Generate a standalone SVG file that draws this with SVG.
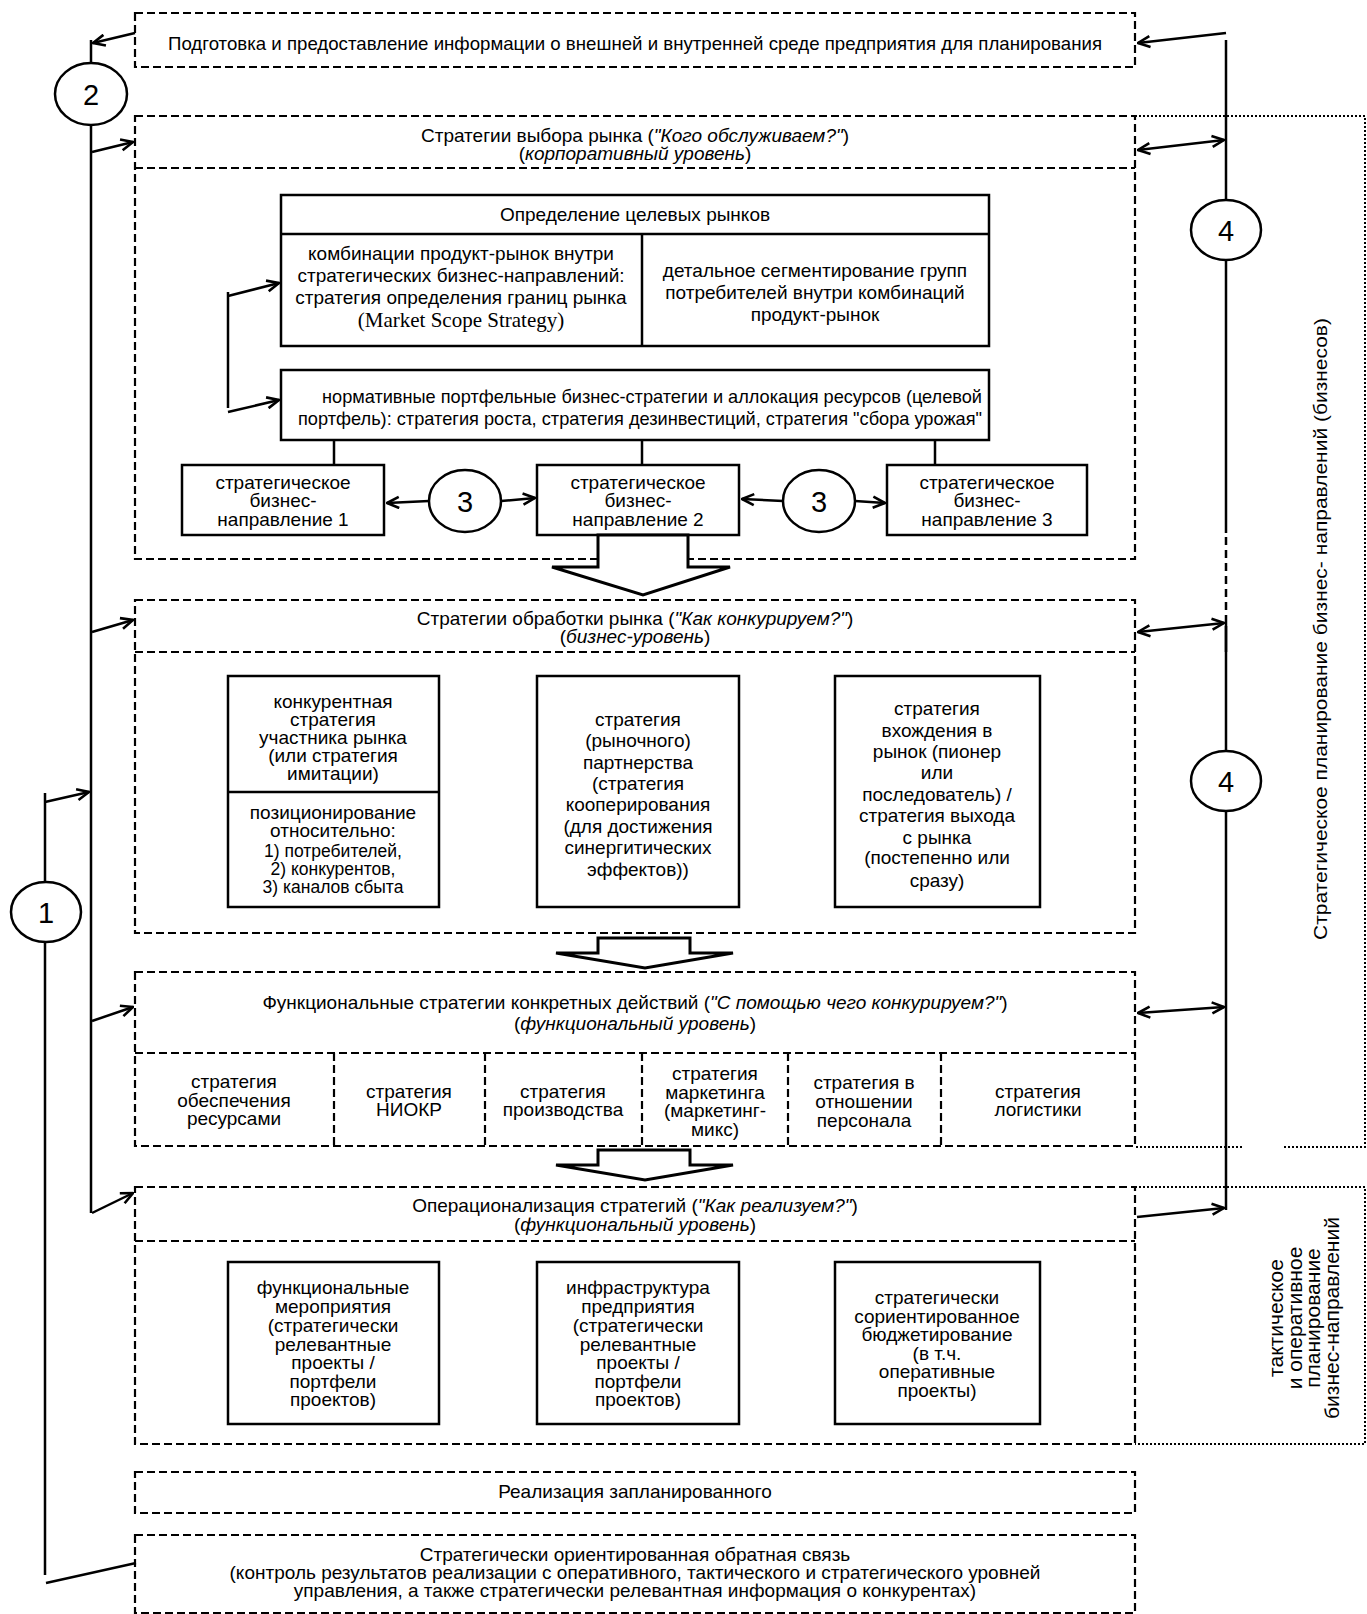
<svg xmlns="http://www.w3.org/2000/svg" width="1367" height="1614" viewBox="0 0 1367 1614">
<style>
.t{font-family:"Liberation Sans",Arial,sans-serif;font-size:19px;fill:#000;text-anchor:middle}
.sm{font-size:17.5px}
.v2{font-size:21px}
.i{font-style:italic}
.num{font-family:"Liberation Sans",Arial,sans-serif;font-size:29px;text-anchor:middle}
.serif{font-family:"Liberation Serif","Times New Roman",serif;font-size:21px}
.dash{fill:none;stroke:#000;stroke-width:2.2;stroke-dasharray:8 4}
.box{fill:#fff;stroke:#000;stroke-width:2.5}
.ln{fill:none;stroke:#000;stroke-width:2.5}
.dot{fill:none;stroke:#000;stroke-width:2;stroke-dasharray:2 2}
.circ{fill:#fff;stroke:#000;stroke-width:2.5}
.blk{fill:#fff;stroke:#000;stroke-width:3;stroke-linejoin:miter}
.arr{fill:none;stroke:#000;stroke-width:2.5;marker-end:url(#ah)}
.darr{fill:none;stroke:#000;stroke-width:2.5;marker-end:url(#ah);marker-start:url(#ah)}
</style>
<defs>
<marker id="ah" viewBox="0 0 14 14" refX="13" refY="7" markerWidth="14" markerHeight="14" markerUnits="userSpaceOnUse" orient="auto-start-reverse">
<path d="M1,1.5 L13,7 L1,12.5" fill="none" stroke="#000" stroke-width="2.6"/>
</marker>
</defs>
<rect width="1367" height="1614" fill="#fff"/>

<!-- side frames -->
<g id="frames">
<path class="dot" d="M1135,116 H1365 V1147 H1282 M1242,1147 H1135"/>
<path class="dot" d="M1135,1187 H1365 V1444 H1135"/>
<text class="t" transform="translate(1327,629) rotate(-90)" textLength="622" lengthAdjust="spacingAndGlyphs">Стратегическое планирование бизнес- направлений (бизнесов)</text>
<text class="t v2" transform="translate(1283,1318) rotate(-90)">тактическое</text>
<text class="t v2" transform="translate(1302,1318) rotate(-90)">и оперативное</text>
<text class="t v2" transform="translate(1320,1318) rotate(-90)">планирование</text>
<text class="t v2" transform="translate(1339,1318) rotate(-90)">бизнес-направлений</text>
</g>

<!-- top box -->
<g id="info">
<rect class="dash" x="135" y="13" width="1000" height="54"/>
<text class="t" x="635" y="50" textLength="934" lengthAdjust="spacingAndGlyphs">Подготовка и предоставление информации о внешней и внутренней среде предприятия для планирования</text>
</g>

<!-- level 1: market choice -->
<g id="market-choice">
<rect class="dash" x="135" y="116" width="1000" height="443"/>
<line class="dash" x1="135" y1="168" x2="1135" y2="168"/>
<text class="t" x="635" y="142">Стратегии выбора рынка (<tspan class="i">"Кого обслуживаем?"</tspan>)</text>
<text class="t" x="635" y="160">(<tspan class="i">корпоративный уровень</tspan>)</text>
</g>

<g id="target-markets">
<rect class="box" x="281" y="195" width="708" height="151"/>
<line class="ln" x1="281" y1="234" x2="989" y2="234"/>
<line class="ln" x1="642" y1="234" x2="642" y2="346"/>
<text class="t" x="635" y="221">Определение целевых рынков</text>
<text class="t" x="461" y="260">комбинации продукт-рынок внутри</text>
<text class="t" x="461" y="282">стратегических бизнес-направлений:</text>
<text class="t" x="461" y="304">стратегия определения границ рынка</text>
<text class="t serif" x="461" y="327">(Market Scope Strategy)</text>
<text class="t" x="815" y="277">детальное сегментирование групп</text>
<text class="t" x="815" y="299">потребителей внутри комбинаций</text>
<text class="t" x="815" y="321">продукт-рынок</text>
</g>

<g id="portfolio">
<rect class="box" x="281" y="370" width="708" height="70"/>
<text class="t" x="652" y="403" textLength="660" lengthAdjust="spacingAndGlyphs">нормативные портфельные бизнес-стратегии и аллокация ресурсов (целевой</text>
<text class="t" x="640" y="425" textLength="684" lengthAdjust="spacingAndGlyphs">портфель): стратегия роста, стратегия дезинвестиций, стратегия "сбора урожая"</text>
</g>

<g id="sbu1">
<rect class="box" x="182" y="465" width="202" height="70"/>
<text class="t" x="283" y="489">стратегическое</text>
<text class="t" x="283" y="507">бизнес-</text>
<text class="t" x="283" y="526">направление 1</text>
</g>
<g id="sbu2">
<rect class="box" x="537" y="465" width="202" height="70"/>
<text class="t" x="638" y="489">стратегическое</text>
<text class="t" x="638" y="507">бизнес-</text>
<text class="t" x="638" y="526">направление 2</text>
</g>
<g id="sbu3">
<rect class="box" x="887" y="465" width="200" height="70"/>
<text class="t" x="987" y="489">стратегическое</text>
<text class="t" x="987" y="507">бизнес-</text>
<text class="t" x="987" y="526">направление 3</text>
</g>

<g id="c3a">
<ellipse class="circ" cx="465" cy="501" rx="36" ry="31"/>
<text class="num" x="465" y="512">3</text>
</g>
<g id="c3b">
<ellipse class="circ" cx="819" cy="501" rx="36" ry="31"/>
<text class="num" x="819" y="512">3</text>
</g>

<!-- level 2 -->
<g id="market-processing">
<rect class="dash" x="135" y="600" width="1000" height="333"/>
<line class="dash" x1="135" y1="652" x2="1135" y2="652"/>
<text class="t" x="635" y="625">Стратегии обработки рынка (<tspan class="i">"Как конкурируем?"</tspan>)</text>
<text class="t" x="635" y="643">(<tspan class="i">бизнес-уровень</tspan>)</text>
</g>

<g id="competitive">
<rect class="box" x="228" y="676" width="211" height="231"/>
<line class="ln" x1="228" y1="792" x2="439" y2="792"/>
<text class="t" x="333" y="708">конкурентная</text>
<text class="t" x="333" y="726">стратегия</text>
<text class="t" x="333" y="744">участника рынка</text>
<text class="t" x="333" y="762">(или стратегия</text>
<text class="t" x="333" y="780">имитации)</text>
<text class="t" x="333" y="819">позиционирование</text>
<text class="t" x="333" y="837">относительно:</text>
<text class="t sm" x="333" y="857">1) потребителей,</text>
<text class="t sm" x="333" y="875">2) конкурентов,</text>
<text class="t sm" x="333" y="893">3) каналов сбыта</text>
</g>

<g id="partnership">
<rect class="box" x="537" y="676" width="202" height="231"/>
<text class="t" x="638" y="726">стратегия</text>
<text class="t" x="638" y="747">(рыночного)</text>
<text class="t" x="638" y="769">партнерства</text>
<text class="t" x="638" y="790">(стратегия</text>
<text class="t" x="638" y="811">кооперирования</text>
<text class="t" x="638" y="833">(для достижения</text>
<text class="t" x="638" y="854">синергитических</text>
<text class="t" x="638" y="876">эффектов))</text>
</g>

<g id="entry">
<rect class="box" x="835" y="676" width="205" height="231"/>
<text class="t" x="937" y="715">стратегия</text>
<text class="t" x="937" y="737">вхождения в</text>
<text class="t" x="937" y="758">рынок (пионер</text>
<text class="t" x="937" y="779">или</text>
<text class="t" x="937" y="801">последователь) /</text>
<text class="t" x="937" y="822">стратегия выхода</text>
<text class="t" x="937" y="844">с рынка</text>
<text class="t" x="937" y="864">(постепенно или</text>
<text class="t" x="937" y="887">сразу)</text>
</g>

<!-- level 3 -->
<g id="functional">
<rect class="dash" x="135" y="972" width="1000" height="174"/>
<line class="dash" x1="135" y1="1053" x2="1135" y2="1053"/>
<line class="dash" x1="334" y1="1053" x2="334" y2="1146"/>
<line class="dash" x1="485" y1="1053" x2="485" y2="1146"/>
<line class="dash" x1="642" y1="1053" x2="642" y2="1146"/>
<line class="dash" x1="788" y1="1053" x2="788" y2="1146"/>
<line class="dash" x1="941" y1="1053" x2="941" y2="1146"/>
<text class="t" x="635" y="1009">Функциональные стратегии конкретных действий (<tspan class="i">"С помощью чего конкурируем?"</tspan>)</text>
<text class="t" x="635" y="1030">(<tspan class="i">функциональный уровень</tspan>)</text>
<text class="t" x="234" y="1088">стратегия</text>
<text class="t" x="234" y="1107">обеспечения</text>
<text class="t" x="234" y="1125">ресурсами</text>
<text class="t" x="409" y="1098">стратегия</text>
<text class="t" x="409" y="1116">НИОКР</text>
<text class="t" x="563" y="1098">стратегия</text>
<text class="t" x="563" y="1116">производства</text>
<text class="t" x="715" y="1080">стратегия</text>
<text class="t" x="715" y="1099">маркетинга</text>
<text class="t" x="715" y="1117">(маркетинг-</text>
<text class="t" x="715" y="1136">микс)</text>
<text class="t" x="864" y="1089">стратегия в</text>
<text class="t" x="864" y="1108">отношении</text>
<text class="t" x="864" y="1127">персонала</text>
<text class="t" x="1038" y="1098">стратегия</text>
<text class="t" x="1038" y="1116">логистики</text>
</g>

<!-- level 4 -->
<g id="operationalization">
<rect class="dash" x="135" y="1187" width="1000" height="257"/>
<line class="dash" x1="135" y1="1241" x2="1135" y2="1241"/>
<text class="t" x="635" y="1212">Операционализация стратегий (<tspan class="i">"Как реализуем?"</tspan>)</text>
<text class="t" x="635" y="1231">(<tspan class="i">функциональный уровень</tspan>)</text>
</g>

<g id="measures">
<rect class="box" x="228" y="1262" width="211" height="162"/>
<text class="t" x="333" y="1294">функциональные</text>
<text class="t" x="333" y="1313">мероприятия</text>
<text class="t" x="333" y="1332">(стратегически</text>
<text class="t" x="333" y="1351">релевантные</text>
<text class="t" x="333" y="1369">проекты /</text>
<text class="t" x="333" y="1388">портфели</text>
<text class="t" x="333" y="1406">проектов)</text>
</g>
<g id="infrastructure">
<rect class="box" x="537" y="1262" width="202" height="162"/>
<text class="t" x="638" y="1294">инфраструктура</text>
<text class="t" x="638" y="1313">предприятия</text>
<text class="t" x="638" y="1332">(стратегически</text>
<text class="t" x="638" y="1351">релевантные</text>
<text class="t" x="638" y="1369">проекты /</text>
<text class="t" x="638" y="1388">портфели</text>
<text class="t" x="638" y="1406">проектов)</text>
</g>
<g id="budgeting">
<rect class="box" x="835" y="1262" width="205" height="162"/>
<text class="t" x="937" y="1304">стратегически</text>
<text class="t" x="937" y="1323">сориентированное</text>
<text class="t" x="937" y="1341">бюджетирование</text>
<text class="t" x="937" y="1360">(в т.ч.</text>
<text class="t" x="937" y="1378">оперативные</text>
<text class="t" x="937" y="1397">проекты)</text>
</g>

<g id="realization">
<rect class="dash" x="135" y="1472" width="1000" height="41"/>
<text class="t" x="635" y="1498">Реализация запланированного</text>
</g>

<g id="feedback">
<rect class="dash" x="135" y="1535" width="1000" height="78"/>
<text class="t" x="635" y="1561">Стратегически ориентированная обратная связь</text>
<text class="t" x="635" y="1579">(контроль результатов реализации с оперативного, тактического и стратегического уровней</text>
<text class="t" x="635" y="1597">управления, а также стратегически релевантная информация о конкурентах)</text>
</g>

<!-- block arrows -->
<g id="block-arrows">
<polygon class="blk" points="598,535 688,535 688,567 730,567 643,595 552,567 598,567"/>
<polygon class="blk" points="598,938 690,938 690,953 733,953 645,968 556,953 598,953"/>
<polygon class="blk" points="598,1150 690,1150 690,1165 733,1165 645,1180 556,1165 598,1165"/>
</g>

<!-- connectors -->
<g id="connectors">
<path class="ln" d="M91,40 V63 M91,125 V1213"/>
<line class="arr" x1="135" y1="33" x2="93" y2="43"/>
<line class="arr" x1="92" y1="152" x2="133" y2="142"/>
<line class="arr" x1="92" y1="632" x2="133" y2="620"/>
<line class="arr" x1="92" y1="1021" x2="133" y2="1007"/>
<line class="arr" x1="92" y1="1213" x2="133" y2="1193"/>
<path class="ln" d="M45,793 V882 M45,942 V1575"/>
<line class="arr" x1="45" y1="802" x2="89" y2="792"/>
<line class="ln" x1="46" y1="1583" x2="136" y2="1563"/>
<line class="arr" x1="1226" y1="33" x2="1138" y2="43"/>
<path class="ln" d="M1226,40 V200 M1226,260 V533 M1226,622 V751 M1226,811 V1210"/>
<line class="ln" x1="1226" y1="537" x2="1226" y2="622" stroke-dasharray="8 5"/>
<line class="ln" x1="1226" y1="626" x2="1226" y2="652" stroke-width="4.5"/>
<line class="darr" x1="1138" y1="150" x2="1224" y2="140"/>
<line class="darr" x1="1138" y1="632" x2="1224" y2="623"/>
<line class="darr" x1="1138" y1="1013" x2="1224" y2="1007"/>
<line class="arr" x1="1137" y1="1217" x2="1224" y2="1208"/>
<path class="ln" d="M228,292 V408"/>
<line class="arr" x1="228" y1="296" x2="279" y2="283"/>
<line class="arr" x1="228" y1="412" x2="279" y2="400"/>
<path class="ln" d="M334,440 V465 M642,440 V465 M935,440 V465"/>
<line class="arr" x1="429" y1="501" x2="387" y2="503"/>
<line class="arr" x1="501" y1="501" x2="535" y2="498"/>
<line class="arr" x1="783" y1="501" x2="742" y2="499"/>
<line class="arr" x1="855" y1="501" x2="885" y2="503"/>
</g>

<g id="c2">
<ellipse class="circ" cx="91" cy="94" rx="36" ry="31"/>
<text class="num" x="91" y="105">2</text>
</g>
<g id="c1">
<ellipse class="circ" cx="46" cy="912" rx="35" ry="30"/>
<text class="num" x="46" y="923">1</text>
</g>
<g id="c4a">
<ellipse class="circ" cx="1226" cy="230" rx="35" ry="30"/>
<text class="num" x="1226" y="241">4</text>
</g>
<g id="c4b">
<ellipse class="circ" cx="1226" cy="781" rx="35" ry="30"/>
<text class="num" x="1226" y="792">4</text>
</g>
</svg>
